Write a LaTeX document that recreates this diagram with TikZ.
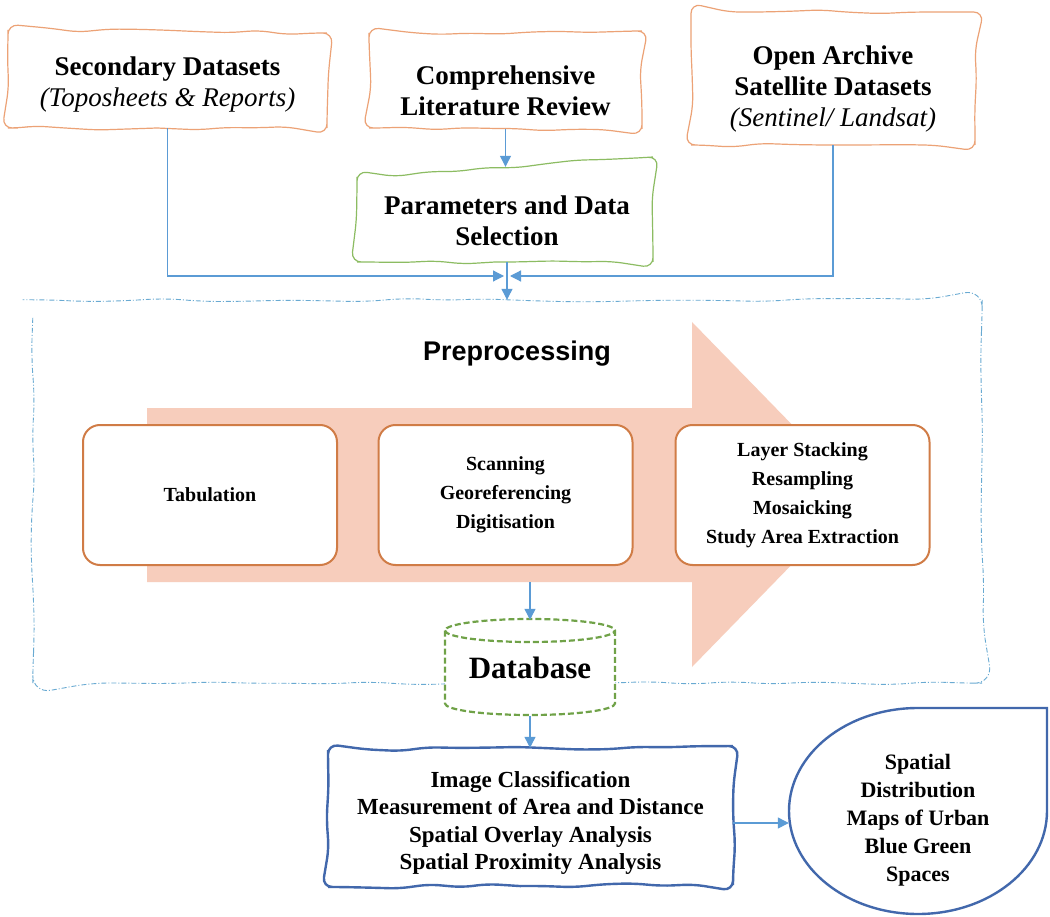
\documentclass[tikz,border=0pt]{standalone}
\usepackage{fontspec}
\setmainfont{Liberation Serif}
\newfontfamily\arialfont{Liberation Sans}
\usetikzlibrary{arrows.meta,decorations.pathmorphing}
\tikzset{>={Triangle[length=11pt,width=11pt]}}
\definecolor{peach}{RGB}{236,162,118}
\definecolor{leafgreen}{RGB}{140,188,98}
\definecolor{skyblue}{RGB}{105,170,210}
\definecolor{flowblue}{RGB}{91,155,213}
\definecolor{salmon}{RGB}{247,205,188}
\definecolor{rust}{RGB}{208,124,70}
\definecolor{dbgreen}{RGB}{112,162,72}
\definecolor{navy}{RGB}{66,104,172}
\tikzset{
  sketch/.style={decorate,decoration={random steps,segment length=30pt,amplitude=2.2pt},rounded corners=10pt},
  topbox/.style={inner sep=0pt,align=center,font=\fontsize{27}{31}\selectfont\bfseries},
  stepbox/.style={draw=rust,line width=2pt,fill=white,rounded corners=17pt,minimum width=254,minimum height=140,align=center,font=\fontsize{20}{29}\selectfont\bfseries},
  flow/.style={->,flowblue,line width=1.2pt}
}

\begin{document}
\begin{tikzpicture}[x=1pt,y=1pt]
\pgfmathsetseed{12}
\fill[white] (0,0) rectangle (1050,-917);
\useasboundingbox (0,0) rectangle (1050,-917);

% sources
\draw[sketch,peach,line width=1.2pt,fill=white] (167,-128) -- (8,-128) -- (8,-30) -- (327,-33) -- (327,-128) -- cycle;
\node[topbox,minimum width=319,minimum height=86] (sec) at (167.5,-85) {Secondary Datasets\\{\mdseries\itshape (Toposheets \& Reports)}};
\draw[sketch,peach,line width=1.2pt,fill=white] (505,-128.5) -- (369,-128) -- (369,-33) -- (642,-31) -- (642,-129) -- cycle;
\node[topbox,minimum width=273,minimum height=76] (lit) at (505.5,-91) {Comprehensive\\Literature Review};
\draw[sketch,peach,line width=1.2pt,fill=white] (833,-145) -- (691,-145) -- (691,-40) arc[start angle=180,end angle=90,radius=28] -- (947,-12) arc[start angle=90,end angle=0,radius=28] -- (975,-145) -- cycle;
\node[topbox,minimum width=284,minimum height=112] (sat) at (833,-89) {Open Archive\\Satellite Datasets\\{\mdseries\itshape (Sentinel/ Landsat)}};
\draw[sketch,leafgreen,line width=1.2pt,fill=white] (505,-262) -- (357,-262) -- (357,-177) -- (653,-157) -- (653,-262) -- cycle;
\node[topbox,minimum width=296,minimum height=82] (par) at (507,-221) {Parameters and Data\\Selection};

% preprocessing
\node[minimum width=949,minimum height=383] (prep) at (507.5,-491.5) {};
\draw[skyblue,line width=0.9pt,dash pattern=on 5pt off 2pt on 1pt off 2pt,decorate,decoration={random steps,segment length=40pt,amplitude=2pt},rounded corners=18pt] (prep.north west) rectangle (prep.south east);
\fill[salmon] (147,-408) -- (692,-408) -- (692,-322) -- (860,-494.5) -- (692,-667) -- (692,-582) -- (147,-582) -- cycle;
\coordinate (arrowfoot) at (530,-582);
\node[font={\arialfont\fontsize{27}{32}\selectfont\bfseries}] (pretitle) at (517,-354) {Preprocessing};
\node[stepbox] (tab) at (210,-495) {Tabulation};
\node[stepbox] (scan) at (505.5,-495) {Scanning\\Georeferencing\\Digitisation};
\node[stepbox] (stack) at (802.5,-495) {Layer Stacking\\Resampling\\Mosaicking\\Study Area Extraction};

% database
\draw[dbgreen,line width=2.2pt,dash pattern=on 6pt off 3pt,fill=white] (445,-630.5) -- (445,-703.5) arc[start angle=180,end angle=360,x radius=85,y radius=11.5] -- (615,-630.5) arc[start angle=0,end angle=180,x radius=85,y radius=11.5] -- cycle;
\draw[dbgreen,line width=2.2pt,dash pattern=on 6pt off 3pt] (445,-630.5) arc[start angle=180,end angle=360,x radius=85,y radius=11.5];
\node[font=\fontsize{31}{36}\selectfont\bfseries,minimum width=170,minimum height=96] (db) at (530,-668) {Database};

% analysis and output
\draw[sketch,navy,line width=2.4pt,fill=white] (530,-886) -- (328,-887) -- (328,-750) -- (733,-746) -- (733,-885) -- cycle;
\node[align=center,font=\fontsize{23}{27.5}\selectfont\bfseries,minimum width=405,minimum height=150] (ana) at (530.5,-823) {Image Classification\\Measurement of Area and Distance\\Spatial Overlay Analysis\\Spatial Proximity Analysis};
\draw[navy,line width=2.4pt,fill=white] (789,-811) arc[start angle=180,end angle=90,x radius=129,y radius=103] -- (1047,-708) -- (1047,-811) arc[start angle=0,end angle=-180,x radius=129,y radius=103] -- cycle;
\node[align=center,font=\fontsize{22}{28}\selectfont\bfseries,minimum width=258,minimum height=180] (maps) at (918,-820) {Spatial\\Distribution\\Maps of Urban\\Blue Green\\Spaces};

% connectors
\coordinate (meet) at (507,-276);
\draw[flow] (lit.south) -- ([yshift=13pt]lit.south |- par.north);
\draw[flow] (par.south) -- (par.south |- prep.north);
\draw[flow] (sec.south) |- ([xshift=-3pt]meet);
\draw[flow] (sat.south) |- ([xshift=3pt]meet);
\draw[flow] (arrowfoot) -- (db.north);
\draw[flow] (db.south) -- (db.south |- ana.north);
\draw[flow] (ana.east) -- (ana.east -| maps.west);
\end{tikzpicture}
\end{document}
